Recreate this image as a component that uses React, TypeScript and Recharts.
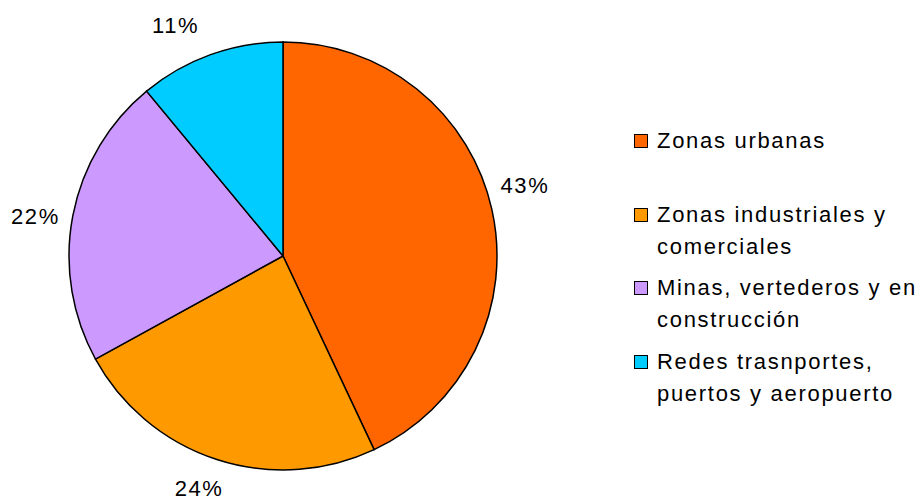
import React from "react";
import { PieChart, Pie, Cell, Legend } from "recharts";

const categories = [
  "Zonas urbanas",
  "Zonas industriales y comerciales",
  "Minas, vertederos y en construcción",
  "Redes trasnportes, puertos y aeropuerto",
];
const legendLines = [
  ["Zonas urbanas"],
  ["Zonas industriales y", "comerciales"],
  ["Minas, vertederos y en", "construcción"],
  ["Redes trasnportes,", "puertos y aeropuerto"],
];
const values = [43, 24, 22, 11];
const colors = ["#FF6600", "#FF9900", "#CC99FF", "#00CCFF"];
// small label nudges (px) relative to the radial label position
const labelNudgeX = [-4, -6, 0, -22];
const labelNudgeY = [-16, -7, 8, 7];

const data = categories.map((name, i) => ({ name, value: values[i] }));

const FONT = "'Liberation Sans', Arial, sans-serif";
const RAD = Math.PI / 180;

const renderLabel = (props: any) => {
  const { cx, cy, outerRadius, midAngle, percent, index } = props;
  const r = outerRadius + 38;
  const x = cx + r * Math.cos(-midAngle * RAD) + labelNudgeX[index];
  const y = cy + r * Math.sin(-midAngle * RAD) + labelNudgeY[index];
  return (
    <text
      x={x}
      y={y}
      textAnchor="middle"
      dominantBaseline="central"
      fontFamily={FONT}
      fontSize={22}
      letterSpacing={1.6}
      fill="#000"
    >
      {`${Math.round(percent * 100)}%`}
    </text>
  );
};

const LegendContent = () => (
  <div style={{ fontFamily: FONT, fontSize: 22, letterSpacing: 1.7, color: "#000" }}>
    {legendLines.map((lines, i) => (
      <div key={i} style={{ position: "relative", height: 74.5, paddingLeft: 23 }}>
        <div
          style={{
            position: "absolute",
            left: 0,
            top: 9,
            width: 12,
            height: 12,
            background: colors[i],
            border: "1px solid #000",
          }}
        />
        {lines.map((l, j) => (
          <div key={j} style={{ height: 32, lineHeight: "32px", whiteSpace: "nowrap", marginTop: j === 0 ? -1 : 0 }}>
            {l}
          </div>
        ))}
      </div>
    ))}
  </div>
);

export default function App() {
  return (
    <div style={{ position: "absolute", left: 0, top: 0, background: "#fff" }}>
      <PieChart width={923} height={501} margin={{ top: 0, right: 0, bottom: 0, left: 0 }}>
        <Pie
          data={data}
          dataKey="value"
          cx={283}
          cy={256}
          outerRadius={214}
          startAngle={90}
          endAngle={-270}
          stroke="#000"
          strokeWidth={1.5}
          label={renderLabel}
          labelLine={false}
          isAnimationActive={false}
        >
          {data.map((d, i) => (
            <Cell key={d.name} fill={colors[i]} />
          ))}
        </Pie>
        <Legend
          content={<LegendContent />}
          wrapperStyle={{ position: "absolute", left: 634, top: 126, width: 289 }}
        />
      </PieChart>
    </div>
  );
}
